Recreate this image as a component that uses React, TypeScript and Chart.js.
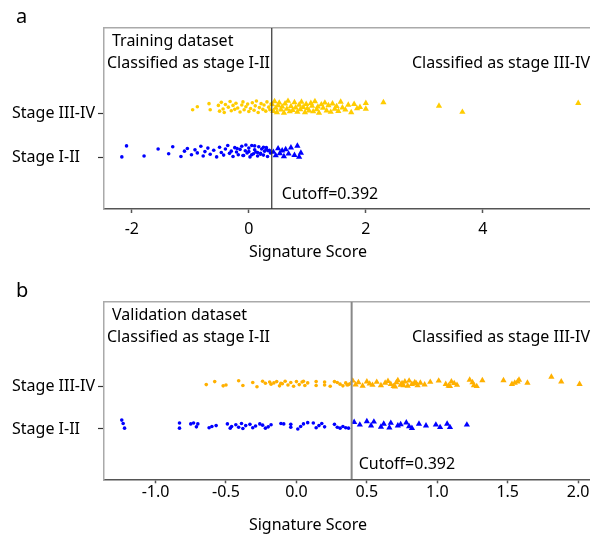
import React, { useEffect, useRef } from "react";
import { Chart, registerables } from "chart.js";

Chart.register(...registerables);

const FONT = "'Noto Sans', 'Open Sans', sans-serif";
const CUTOFF = 0.392;
const CATEGORY_LABELS = ["Stage I-II", "Stage III-IV"];
const CATEGORY_VALUES = [1, 2];
const LEFT_LABEL = "Classified as stage I-II";
const RIGHT_LABEL = "Classified as stage III-IV";
const AXIS_TITLE = "Signature Score";

// ---- Panel a: training dataset ----
const trainHighCircX = [-0.96, -0.88, -0.68, -0.66, -0.52, -0.5, -0.47, -0.44, -0.42, -0.4, -0.35, -0.32, -0.3, -0.27, -0.24, -0.22, -0.19, -0.15, -0.12, -0.1, -0.08, -0.05, -0.02, 0.0, 0.03, 0.06, 0.09, 0.11, 0.13, 0.16, 0.18, 0.21, 0.24, 0.26, 0.29, 0.31, 0.34, 0.36, 0.38];
const trainHighCircJ = [0.08, 0.15, 0.22, 0.08, 0.18, 0.05, 0.25, 0.1, 0.02, 0.2, 0.14, 0.27, 0.06, 0.18, 0.09, 0.23, 0.12, 0.03, 0.19, 0.26, 0.08, 0.15, 0.21, 0.04, 0.11, 0.24, 0.07, 0.17, 0.28, 0.02, 0.13, 0.22, 0.09, 0.19, 0.05, 0.26, 0.14, 0.08, 0.21];
const trainHighTriX = [0.4, 0.42, 0.44, 0.46, 0.48, 0.5, 0.52, 0.55, 0.57, 0.6, 0.62, 0.65, 0.67, 0.7, 0.72, 0.75, 0.78, 0.8, 0.83, 0.86, 0.88, 0.9, 0.93, 0.96, 0.98, 1.0, 1.03, 1.06, 1.08, 1.1, 1.13, 1.16, 1.18, 1.2, 1.24, 1.27, 1.3, 1.33, 1.36, 1.4, 1.43, 1.47, 1.5, 1.53, 1.57, 1.6, 1.65, 1.7, 1.75, 1.8, 1.85, 1.9, 2.0, 2.0, 2.3, 3.25, 3.65, 5.63];
const trainHighTriJ = [0.2, 0.05, 0.27, 0.12, 0.02, 0.18, 0.24, 0.08, 0.15, 0.01, 0.22, 0.1, 0.28, 0.04, 0.16, 0.07, 0.25, 0.13, 0.03, 0.19, 0.09, 0.26, 0.14, 0.02, 0.21, 0.11, 0.06, 0.23, 0.17, 0.04, 0.27, 0.09, 0.15, 0.01, 0.2, 0.12, 0.24, 0.06, 0.18, 0.03, 0.22, 0.1, 0.16, 0.05, 0.26, 0.13, 0.08, 0.19, 0.02, 0.21, 0.11, 0.14, 0.23, 0.1, 0.25, 0.17, 0.03, 0.23];
const trainLowCircX = [-2.17, -2.09, -1.79, -1.55, -1.37, -1.3, -1.16, -1.1, -1.05, -0.98, -0.92, -0.88, -0.82, -0.78, -0.75, -0.7, -0.66, -0.6, -0.55, -0.5, -0.47, -0.43, -0.4, -0.36, -0.33, -0.3, -0.27, -0.24, -0.21, -0.18, -0.15, -0.12, -0.09, -0.06, -0.03, 0.0, 0.02, 0.05, 0.08, 0.1, 0.12, 0.15, 0.17, 0.2, 0.22, 0.25, 0.27, 0.3, 0.32, 0.35, 0.37, -0.2, -0.1, 0.0, 0.1, 0.2, 0.3, -0.05, 0.05, 0.15, 0.25, 0.33];
const trainLowCircJ = [0.01, 0.26, 0.03, 0.19, 0.08, 0.24, 0.02, 0.14, 0.2, 0.06, 0.17, 0.1, 0.25, 0.03, 0.13, 0.21, 0.07, 0.16, 0.01, 0.23, 0.11, 0.05, 0.19, 0.27, 0.09, 0.14, 0.02, 0.22, 0.12, 0.06, 0.18, 0.25, 0.04, 0.15, 0.1, 0.21, 0.01, 0.27, 0.08, 0.17, 0.12, 0.03, 0.24, 0.09, 0.19, 0.05, 0.14, 0.22, 0.02, 0.16, 0.1, 0.2, 0.04, 0.13, 0.26, 0.07, 0.18, 0.28, 0.06, 0.11, 0.23, 0.15];
const trainLowTriX = [0.42, 0.46, 0.5, 0.53, 0.57, 0.6, 0.63, 0.68, 0.72, 0.78, 0.83, 0.86, 0.89];
const trainLowTriJ = [0.12, 0.04, 0.2, 0.09, 0.15, 0.02, 0.18, 0.08, 0.22, 0.05, 0.26, 0.01, 0.1];

// ---- Panel b: validation dataset ----
const validHighCircX = [-0.64, -0.58, -0.52, -0.5, -0.41, -0.38, -0.31, -0.24, -0.22, -0.19, -0.18, -0.16, -0.14, -0.12, -0.1, -0.08, -0.06, -0.04, -0.02, 0.0, 0.02, 0.04, 0.06, 0.08, 0.14, 0.14, 0.2, 0.2, 0.27, 0.29, 0.31, 0.33, 0.35, 0.36, 0.38, -0.28, -0.11, 0.05, 0.24, 0.37];
const validHighCircJ = [0.05, 0.12, 0.02, 0.04, 0.14, 0.03, 0.1, 0.13, 0.08, 0.11, 0.06, 0.09, 0.12, 0.02, 0.07, 0.13, 0.04, 0.1, 0.01, 0.12, 0.05, 0.11, 0.03, 0.09, 0.12, 0.03, 0.11, 0.04, 0.12, 0.1, 0.06, 0.02, 0.09, 0.04, 0.07, 0.0, 0.08, 0.13, 0.01, 0.05];
const validHighTriX = [0.4, 0.42, 0.44, 0.47, 0.5, 0.52, 0.54, 0.57, 0.6, 0.63, 0.65, 0.67, 0.69, 0.71, 0.72, 0.74, 0.75, 0.77, 0.79, 0.8, 0.82, 0.84, 0.86, 0.88, 0.91, 0.95, 1.01, 1.06, 1.08, 1.1, 1.12, 1.14, 1.23, 1.25, 1.26, 1.28, 1.32, 1.47, 1.53, 1.55, 1.57, 1.58, 1.64, 1.81, 1.88, 2.01, 0.7, 0.76, 0.85, 1.09];
const validHighTriJ = [0.14, 0.05, 0.1, 0.02, 0.12, 0.07, 0.04, 0.11, 0.03, 0.09, 0.13, 0.06, 0.01, 0.1, 0.15, 0.04, 0.08, 0.12, 0.02, 0.14, 0.06, 0.1, 0.03, 0.09, 0.05, 0.11, 0.14, 0.06, 0.02, 0.12, 0.08, 0.04, 0.16, 0.1, 0.03, 0.01, 0.15, 0.15, 0.06, 0.09, 0.12, 0.16, 0.09, 0.23, 0.12, 0.06, 0.0, 0.03, 0.08, 0.01];
const validLowCircX = [-1.24, -1.23, -1.22, -0.83, -0.83, -0.75, -0.73, -0.71, -0.7, -0.62, -0.6, -0.57, -0.49, -0.47, -0.46, -0.43, -0.41, -0.39, -0.38, -0.36, -0.33, -0.31, -0.29, -0.26, -0.24, -0.22, -0.2, -0.18, -0.11, -0.09, -0.04, -0.04, 0.01, 0.03, 0.05, 0.08, 0.12, 0.14, 0.16, 0.18, 0.2, 0.27, 0.29, 0.31, 0.33, 0.35, 0.37];
const validLowCircJ = [0.21, 0.13, 0.02, 0.14, 0.02, 0.12, 0.14, 0.05, 0.12, 0.03, 0.06, 0.08, 0.12, 0.02, 0.06, 0.1, 0.04, 0.13, 0.01, 0.08, 0.11, 0.03, 0.07, 0.12, 0.09, 0.02, 0.05, 0.1, 0.13, 0.12, 0.04, 0.11, 0.0, 0.06, 0.12, 0.15, 0.14, 0.03, 0.08, 0.13, 0.05, 0.11, 0.04, 0.02, 0.06, 0.03, 0.02];
const validLowTriX = [0.41, 0.45, 0.5, 0.53, 0.55, 0.6, 0.62, 0.66, 0.67, 0.72, 0.74, 0.78, 0.8, 0.82, 0.87, 0.92, 0.99, 1.02, 1.07, 1.09, 1.21];
const validLowTriJ = [0.16, 0.1, 0.18, 0.08, 0.17, 0.05, 0.12, 0.03, 0.14, 0.08, 0.11, 0.15, 0.06, 0.02, 0.12, 0.08, 0.1, 0.04, 0.12, 0.04, 0.1];

const BLUE = "#0000ff";

function pts(xs: number[], js: number[], base: number) {
  const n = Math.min(xs.length, js.length);
  const out: { x: number; y: number }[] = [];
  for (let i = 0; i < n; i++) out.push({ x: xs[i], y: base + js[i] });
  return out;
}

const textPlugin = {
  id: "panelText",
  afterDraw(chart: any, _args: any, o: any) {
    const { ctx, chartArea, scales } = chart;
    const cx = scales.x.getPixelForValue(CUTOFF);
    ctx.save();
    ctx.fillStyle = "#000";
    ctx.textBaseline = "alphabetic";
    ctx.textAlign = "left";
    ctx.font = `20px ${FONT}`;
    ctx.fillText(o.letter, 16, o.letterBaseline);
    ctx.font = `16px ${FONT}`;
    ctx.fillText(o.dataset, chartArea.left + 8, chartArea.top + 18);
    ctx.fillText(LEFT_LABEL, chartArea.left + 3, chartArea.top + 40);
    ctx.fillText(`Cutoff=${CUTOFF}`, cx + o.cutoffDx, chartArea.bottom - 10);
    ctx.textAlign = "right";
    ctx.fillText(RIGHT_LABEL, chartArea.right + 1, chartArea.top + 40);
    ctx.textAlign = "center";
    ctx.fillText(AXIS_TITLE, 308, chartArea.bottom + o.titleDy);
    ctx.restore();
  },
};

type PanelCfg = {
  height: number;
  top: number;
  xMin: number;
  xMax: number;
  yMin: number;
  yMax: number;
  step: number;
  decimals: number;
  xAxisH: number;
  tickPad: number;
  yellow: string;
  cutColor: string;
  cutWidth: number;
  letter: string;
  letterBaseline: number;
  dataset: string;
  cutoffDx: number;
  titleDy: number;
  highCirc: { x: number; y: number }[];
  highTri: { x: number; y: number }[];
  lowCirc: { x: number; y: number }[];
  lowTri: { x: number; y: number }[];
};

const panelA: PanelCfg = {
  height: 268,
  top: 28,
  xMin: -2.475,
  xMax: 5.814,
  yMin: -0.175,
  yMax: 3.94,
  step: 2,
  decimals: 0,
  xAxisH: 59,
  tickPad: 7,
  yellow: "#ffcc00",
  cutColor: "#333333",
  cutWidth: 1.2,
  letter: "a",
  letterBaseline: 23,
  dataset: "Training dataset",
  cutoffDx: 10,
  titleDy: 48,
  highCirc: pts(trainHighCircX, trainHighCircJ, 2),
  highTri: pts(trainHighTriX, trainHighTriJ, 2),
  lowCirc: pts(trainLowCircX, trainLowCircJ, 1),
  lowTri: pts(trainLowTriX, trainLowTriJ, 1),
};

const panelB: PanelCfg = {
  height: 267,
  top: 33.7,
  xMin: -1.366,
  xMax: 2.077,
  yMin: -0.19,
  yMax: 4.01,
  step: 0.5,
  decimals: 1,
  xAxisH: 55.7,
  tickPad: 0,
  yellow: "#ffb000",
  cutColor: "#888888",
  cutWidth: 2,
  letter: "b",
  letterBaseline: 28.7,
  dataset: "Validation dataset",
  cutoffDx: 7,
  titleDy: 51,
  highCirc: pts(validHighCircX, validHighCircJ, 2),
  highTri: pts(validHighTriX, validHighTriJ, 2),
  lowCirc: pts(validLowCircX, validLowCircJ, 1),
  lowTri: pts(validLowTriX, validLowTriJ, 1),
};

function Panel({ cfg }: { cfg: PanelCfg }) {
  const ref = useRef<HTMLCanvasElement | null>(null);
  useEffect(() => {
    if (!ref.current) return;
    const circ = (data: any, color: string) => ({
      type: "scatter" as const,
      data,
      pointStyle: "circle",
      pointRadius: 1.8,
      pointBackgroundColor: color,
      pointBorderWidth: 0,
      pointBorderColor: color,
    });
    const tri = (data: any, color: string) => ({
      type: "scatter" as const,
      data,
      pointStyle: "triangle",
      pointRadius: 3.6,
      pointBackgroundColor: color,
      pointBorderWidth: 0,
      pointBorderColor: color,
    });
    const chart = new Chart(ref.current, {
      type: "scatter",
      data: {
        datasets: [
          {
            type: "line" as const,
            data: [
              { x: CUTOFF, y: cfg.yMin },
              { x: CUTOFF, y: cfg.yMax },
            ],
            borderColor: cfg.cutColor,
            borderWidth: cfg.cutWidth,
            pointRadius: 0,
            fill: false,
          } as any,
          circ(cfg.highCirc, cfg.yellow),
          tri(cfg.highTri, cfg.yellow),
          circ(cfg.lowCirc, BLUE),
          tri(cfg.lowTri, BLUE),
        ],
      },
      options: {
        animation: false,
        responsive: false,
        devicePixelRatio: 1,
        layout: { padding: { left: 12, right: 0, top: cfg.top, bottom: 0 } },
        plugins: {
          legend: { display: false },
          tooltip: { enabled: false },
          panelText: {
            letter: cfg.letter,
            letterBaseline: cfg.letterBaseline,
            dataset: cfg.dataset,
            cutoffDx: cfg.cutoffDx,
            titleDy: cfg.titleDy,
          },
        } as any,
        scales: {
          x: {
            type: "linear",
            position: "bottom",
            min: cfg.xMin,
            max: cfg.xMax,
            afterFit: (s: any) => {
              s.height = cfg.xAxisH;
            },
            border: { color: "#555555", width: 1.5 },
            grid: { drawOnChartArea: false, tickLength: 4, tickColor: "#555555", tickWidth: 1.5 },
            ticks: {
              stepSize: cfg.step,
              includeBounds: false,
              padding: cfg.tickPad,
              color: "#000",
              font: { family: FONT, size: 16 },
              maxRotation: 0,
              callback: (v: any) => Number(v).toFixed(cfg.decimals),
            },
          },
          x2: {
            type: "linear",
            position: "top",
            min: cfg.xMin,
            max: cfg.xMax,
            afterFit: (s: any) => {
              s.height = 0;
            },
            border: { color: "#aaaaaa", width: 1.5 },
            grid: { drawOnChartArea: false, drawTicks: false },
            ticks: { display: false },
          },
          y: {
            type: "linear",
            min: cfg.yMin,
            max: cfg.yMax,
            afterFit: (s: any) => {
              s.width = 92;
            },
            afterBuildTicks: (s: any) => {
              s.ticks = CATEGORY_VALUES.map((v) => ({ value: v }));
            },
            border: { color: "#aaaaaa", width: 1.5 },
            grid: { drawOnChartArea: false, tickLength: 6, tickColor: "#333333", tickWidth: 1.2 },
            ticks: {
              crossAlign: "far",
              color: "#000",
              font: { family: FONT, size: 16 },
              callback: (v: any) => {
                const i = CATEGORY_VALUES.indexOf(Number(v));
                return i >= 0 ? CATEGORY_LABELS[i] : "";
              },
            },
          },
        },
      },
      plugins: [textPlugin],
    } as any);
    return () => chart.destroy();
  }, [cfg]);
  return (
    <div style={{ position: "absolute", left: 0, top: cfg === panelA ? 0 : 268, width: 593, height: cfg.height }}>
      <canvas ref={ref} width={593} height={cfg.height} style={{ display: "block" }} />
    </div>
  );
}

export default function App() {
  return (
    <div style={{ position: "fixed", left: 0, top: 0, width: 593, height: 535, background: "#fff", overflow: "hidden" }}>
      <Panel cfg={panelA} />
      <Panel cfg={panelB} />
    </div>
  );
}
